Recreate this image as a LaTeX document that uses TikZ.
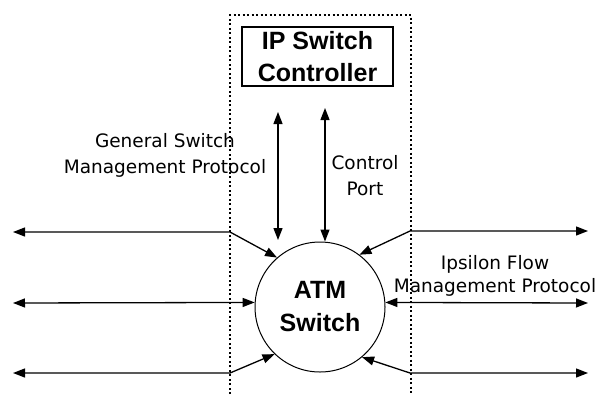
\documentclass[tikz,border=0pt]{standalone}
\usepackage{fontspec}
\setmainfont{DejaVu Sans}
\newfontfamily\headfont{Liberation Sans}
\usetikzlibrary{arrows.meta}

\begin{document}
\begin{tikzpicture}[x=1pt,y=1pt,yscale=-1,xscale=1,
  link/.style={line width=1.3pt, {Triangle[length=12pt,width=9pt]}-{Triangle[length=12pt,width=9pt]}},
  lbl/.style={align=center, inner sep=0pt, font=\fontsize{18.5}{26}\selectfont},
  head/.style={align=center, inner sep=0pt, font=\headfont\bfseries\fontsize{25}{32}\selectfont}]
\useasboundingbox (0,0) rectangle (599,394);

%Shape: dotted frame round the controller
\draw [line width=1.5pt, dash pattern=on 2pt off 2.5pt] (230,394) -- (230,15) -- (411,15) -- (411,394) ;

%Shape: Rectangle
\node (ipsc) [head, draw, line width=1.3pt, minimum width=151pt, minimum height=59pt] at (317.5,56.5) {IP Switch\\Controller};
%Shape: Circle
\node (atm) [head, circle, draw, line width=1pt, minimum size=130pt, font=\headfont\bfseries\fontsize{25}{33}\selectfont] at (320,307) {ATM\\Switch};

% free ends
\coordinate (lt) at (13,232);
\coordinate (blt) at (230,232);
\coordinate (lm) at (13,303);
\coordinate (lb) at (13,373);
\coordinate (blb) at (230,373);
\coordinate (rt) at (588,231);
\coordinate (brt) at (410,231);
\coordinate (rm) at (588,303);
\coordinate (rb) at (588,373);
\coordinate (brb) at (410,373);
\coordinate (gsp) at (278,112);
\coordinate (gspe) at (278,240);
\coordinate (cp) at (325,108);

%Straight Lines
\draw [link] (lt) -- (blt) -- (atm.131) ;
\draw [link] (lm) -- (atm.176) ;
\draw [link] (lb) -- (blb) -- (atm.226) ;
\draw [link] (rt) -- (brt) -- (atm.53) ;
\draw [link] (rm) -- (atm.4) ;
\draw [link] (rb) -- (brb) -- (atm.310) ;
\draw [link] (gsp) -- (gspe) ;
\draw [link] (cp) -- (cp |- atm.north) ;

% Text Node
\node (gsmp) [lbl] at (165,155) {General Switch\\Management Protocol};
% Text Node
\node (ctrl) [lbl] at (365,176) {Control\\Port};
% Text Node
\node (ifmp) [lbl, font=\fontsize{18.5}{23}\selectfont] at (495,276) {Ipsilon Flow\\Management Protocol};
\end{tikzpicture}
\end{document}
